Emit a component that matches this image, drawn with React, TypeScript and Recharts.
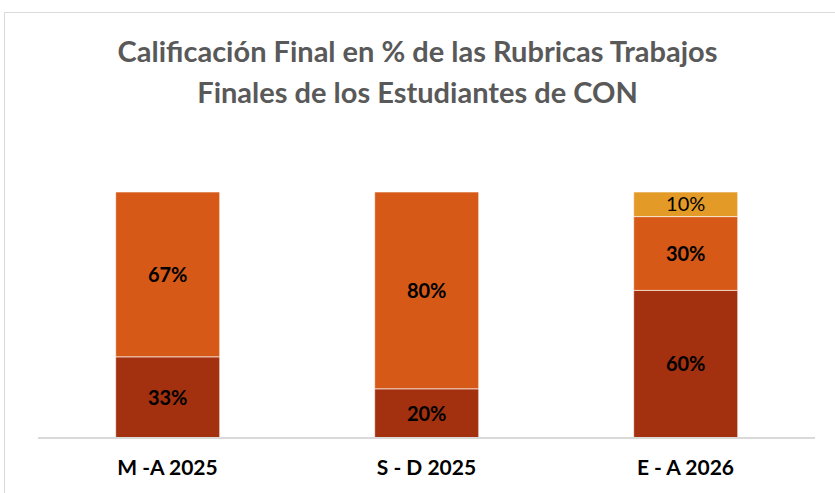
import { BarChart, Bar, XAxis, YAxis, LabelList } from 'recharts';

const periods = ['M -A 2025', 'S - D 2025', 'E - A 2026'];
const lowShare = [33, 20, 60];
const midShare = [67, 80, 30];
const highShare = [0, 0, 10];

const data = periods.map((p, i) => ({
  period: p,
  low: lowShare[i],
  mid: midShare[i],
  high: highShare[i],
}));

const fmt = (v: any) => (v ? `${v}%` : '');

const FONT = 'Lato, "Open Sans", sans-serif';

export default function App() {
  return (
    <div style={{ position: 'absolute', left: 0, top: 0, width: 835, height: 493, overflow: 'hidden', background: '#fff', fontFamily: FONT }}>
      <div style={{ position: 'absolute', left: 4, top: 12, width: 860, height: 520, border: '1px solid #d9d9d9' }} />
      <div style={{ position: 'absolute', left: 0, top: 30, width: 835, textAlign: 'center', color: '#595959', fontSize: 29, fontWeight: 700, lineHeight: '41px' }}>
        Calificación Final en % de las Rubricas Trabajos
        <br />
        Finales de los Estudiantes de CON
      </div>
      <div style={{ position: 'absolute', left: 0, top: 0 }}>
        <BarChart width={835} height={493} data={data} margin={{ top: 192, right: 20, bottom: 25, left: 38 }} barCategoryGap="30%">
          <XAxis
            dataKey="period"
            height={30}
            tickLine={false}
            axisLine={{ stroke: '#d9d9d9', strokeWidth: 2 }}
            tick={{ fill: '#000', fontSize: 21, fontWeight: 700, fontFamily: FONT, dy: 14 }}
          />
          <YAxis hide domain={[0, 100]} />
          <Bar dataKey="low" stackId="a" fill="#A3300F" stroke="#fff" strokeWidth={0.6} isAnimationActive={false}>
            <LabelList dataKey="low" position="center" formatter={fmt} fill="#000" fontSize={20} fontWeight={700} fontFamily={FONT} />
          </Bar>
          <Bar dataKey="mid" stackId="a" fill="#D65917" stroke="#fff" strokeWidth={0.6} isAnimationActive={false}>
            <LabelList dataKey="mid" position="center" formatter={fmt} fill="#000" fontSize={20} fontWeight={700} fontFamily={FONT} />
          </Bar>
          <Bar dataKey="high" stackId="a" fill="#E39A26" stroke="#fff" strokeWidth={0.6} isAnimationActive={false}>
            <LabelList dataKey="high" position="center" formatter={fmt} fill="#000" fontSize={20} fontWeight={400} fontFamily={FONT} />
          </Bar>
        </BarChart>
      </div>
    </div>
  );
}
